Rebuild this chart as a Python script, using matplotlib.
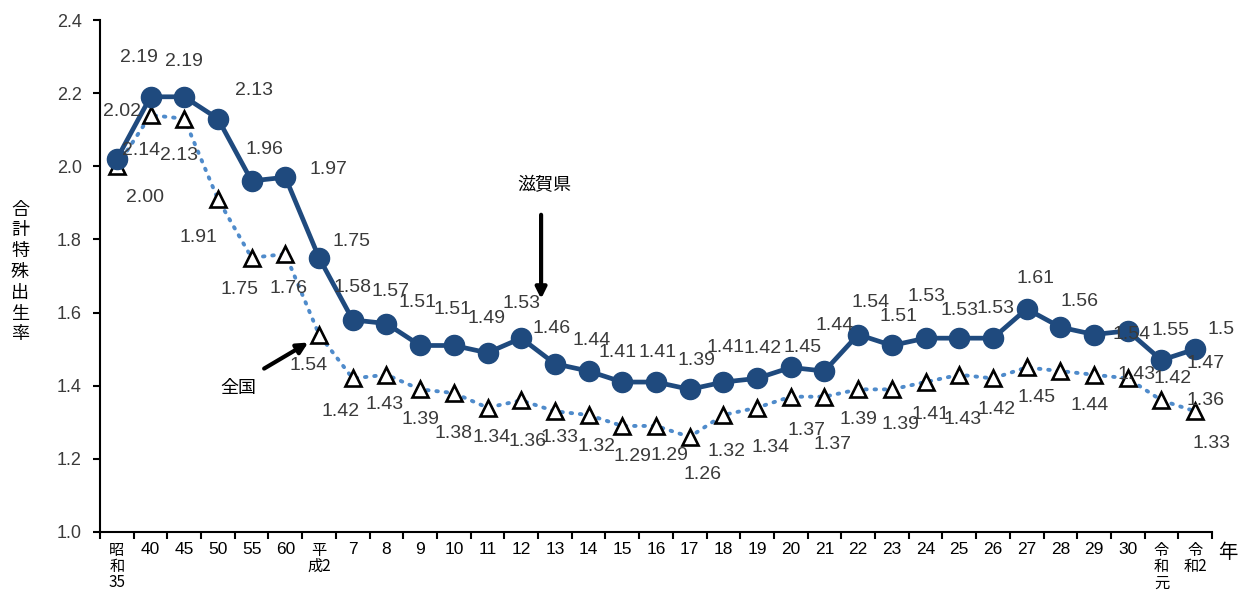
import matplotlib
matplotlib.use("Agg")
import matplotlib.pyplot as plt
import numpy as np

plt.rcParams['font.family'] = ['Noto Sans CJK JP', 'DejaVu Sans']

# x categories (和暦)
years = ['昭\n和\n35', '40', '45', '50', '55', '60', '平\n成2',
         '7', '8', '9', '10', '11', '12', '13', '14', '15', '16', '17', '18',
         '19', '20', '21', '22', '23', '24', '25', '26', '27', '28', '29', '30',
         '令\n和\n元', '令\n和2']

shiga = [2.02, 2.19, 2.19, 2.13, 1.96, 1.97, 1.75, 1.58, 1.57, 1.51, 1.51,
         1.49, 1.53, 1.46, 1.44, 1.41, 1.41, 1.39, 1.41, 1.42, 1.45, 1.44,
         1.54, 1.51, 1.53, 1.53, 1.53, 1.61, 1.56, 1.54, 1.55, 1.47, 1.50]

zenkoku = [2.00, 2.14, 2.13, 1.91, 1.75, 1.76, 1.54, 1.42, 1.43, 1.39, 1.38,
           1.34, 1.36, 1.33, 1.32, 1.29, 1.29, 1.26, 1.32, 1.34, 1.37, 1.37,
           1.39, 1.39, 1.41, 1.43, 1.42, 1.45, 1.44, 1.43, 1.42, 1.36, 1.33]

# label offsets in pixels (dx, dy downward), as placed by hand in the original
shiga_off = [(5, -47), (-12, -39), (0, -35), (36, -28), (13, -31), (43, -8),
             (32, -16), (0, -32), (4, -32), (-3, -43), (-1, -36), (-1, -34),
             (0, -35), (-3, -35), (3, -31), (-5, -30), (2, -30), (7, -29),
             (2, -35), (5, -30), (12, -20), (10, -46), (12, -32), (7, -29),
             (1, -42), (0, -28), (3, -30), (9, -30), (19, -26), (38, 0),
             (43, 0), (44, 3), (26, -20)]
zen_off = [(28, 31), (-9, 35), (-5, 37), (-20, 38), (-12, 32), (3, 34),
           (-10, 31), (-12, 33), (-2, 30), (0, 30), (0, 40), (4, 30),
           (6, 41), (5, 26), (8, 32), (10, 31), (13, 30), (13, 38), (3, 37),
           (13, 40), (16, 34), (8, 48), (0, 30), (9, 35), (5, 32), (3, 45),
           (4, 31), (10, 30), (29, 34), (43, 0), (45, 0), (44, 0), (16, 32)]

x = np.arange(len(years))

fig = plt.figure(figsize=(12.5, 6.03), dpi=100)
ax = fig.add_axes([100/1250, 71/603, 1112/1250, 512/603])

# 全国 dotted line + triangles
ax.plot(x, zenkoku, color='#4F8BCB', lw=2.8, ls=(0, (0.4, 2.0)),
        dash_capstyle='round', marker='^', markersize=12,
        markerfacecolor='white', markeredgecolor='black', markeredgewidth=1.9,
        zorder=3)
# 滋賀県 solid line + circles
ax.plot(x, shiga, color='#1F4A7E', lw=3.4, marker='o', markersize=14.5,
        zorder=4)

num_font = ['Liberation Sans', 'DejaVu Sans']
for xi, v, (dx, dy) in zip(x, shiga, shiga_off):
    s = '1.5' if xi == len(x) - 1 else f'{v:.2f}'
    ax.annotate(s, (xi, v), xytext=(dx, -dy), textcoords='offset pixels',
                ha='center', va='center', fontsize=14, color='#3a3a3a',
                family=num_font, zorder=5)
for xi, v, (dx, dy) in zip(x, zenkoku, zen_off):
    ax.annotate(f'{v:.2f}', (xi, v), xytext=(dx, -dy), textcoords='offset pixels',
                ha='center', va='center', fontsize=14, color='#3a3a3a',
                family=num_font, zorder=5)

# arrows
ax.annotate('', xy=(12.59, 1.63), xytext=(12.59, 1.875),
            arrowprops=dict(arrowstyle='-|>', color='black', lw=3,
                            mutation_scale=16))
ax.text(12.7, 1.949, '滋賀県', fontsize=13, ha='center', va='center')
ax.annotate('', xy=(5.75, 1.522), xytext=(4.3, 1.443),
            arrowprops=dict(arrowstyle='-|>', color='black', lw=3,
                            mutation_scale=16))
ax.text(3.6, 1.394, '全国', fontsize=13, ha='center', va='center')

ax.set_xlim(-0.5, len(x) - 0.5)
ax.set_ylim(1.0, 2.4)
yt = np.arange(1.0, 2.41, 0.2)
ax.set_yticks(yt)
ax.set_yticklabels([f'{t:.1f}' for t in yt], fontsize=13, family=num_font,
                   color='#3a3a3a')
ax.set_xticks(x)
ax.set_xticklabels(years, fontsize=11, va='top', linespacing=0.95)
for lab in ax.get_xticklabels():
    if '\n' not in lab.get_text():
        lab.set_family(num_font)
        lab.set_fontsize(12.5)
ax.set_xticks(np.arange(-0.5, len(x), 1), minor=True)
ax.tick_params(axis='x', which='major', length=0, pad=7)
ax.tick_params(axis='x', which='minor', length=5, width=1.5, direction='out')
ax.tick_params(axis='y', length=5, width=1.5, direction='out', pad=8)

for side in ['top', 'right']:
    ax.spines[side].set_visible(False)
ax.spines['left'].set_linewidth(1.5)
ax.spines['bottom'].set_linewidth(1.5)

fig.text(20/1250, 1 - 272/603, '合\n計\n特\n殊\n出\n生\n率', fontsize=13,
         ha='center', va='center', linespacing=1.2)
fig.text(1228/1250, 1 - 553/603, '年', fontsize=14, ha='center', va='center')

fig.savefig('out.png', dpi=100)
